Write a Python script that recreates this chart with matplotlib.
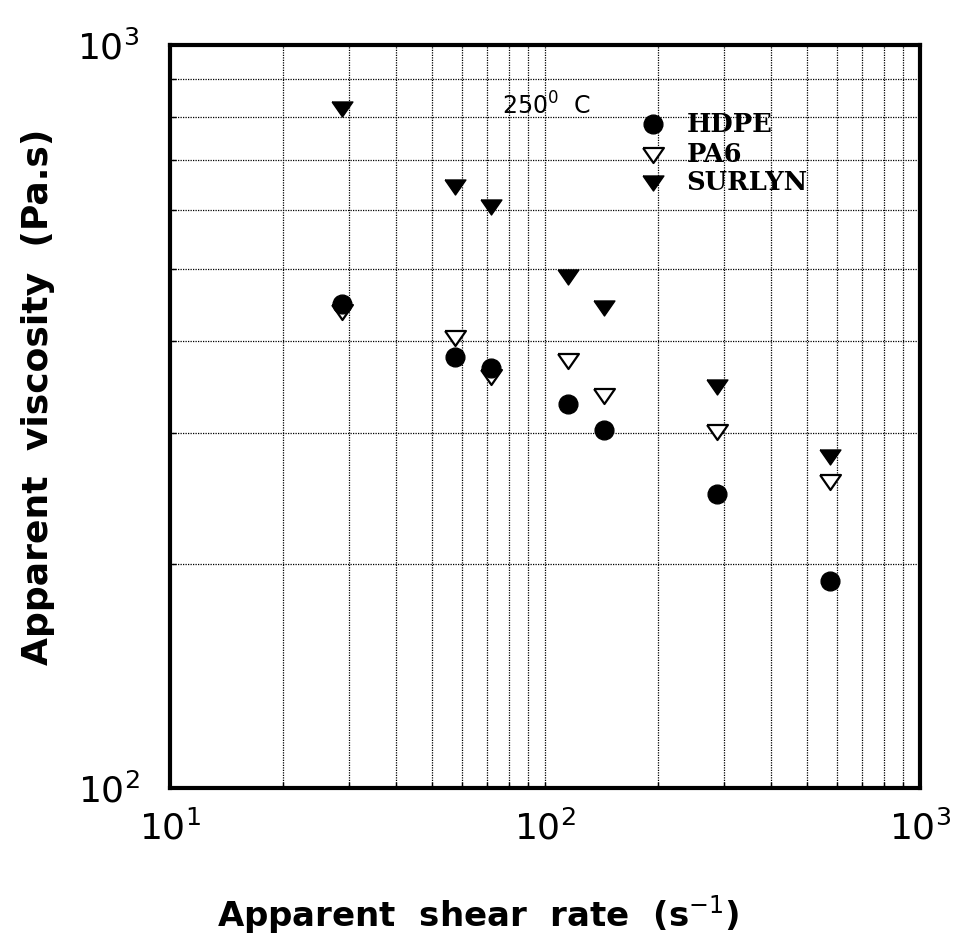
import matplotlib
matplotlib.use("Agg")
import matplotlib.pyplot as plt
from matplotlib.ticker import LogLocator, NullFormatter

shear_rate = [28.8, 57.6, 72, 115.2, 144, 288, 576]
hdpe = [448, 380, 368, 329, 303, 249, 190]
pa6 = [437, 403, 357, 376, 337, 301, 258]
surlyn = [819, 644, 605, 488, 442, 347, 279]
series_names = ["HDPE", "PA6", "SURLYN"]

fig = plt.figure(figsize=(9.54, 9.41), dpi=100)
ax = fig.add_axes([170/954, 1-788/941, (920-170)/954, (788-45)/941])
ax.set_xscale("log")
ax.set_yscale("log")
ax.set_xlim(10, 1000)
ax.set_ylim(100, 1000)

tri = [(-1, 0.72), (1, 0.72), (0, -0.72), (-1, 0.72)]

ax.plot(shear_rate, pa6, linestyle="none", marker=tri, markersize=15,
        markerfacecolor="white", markeredgecolor="black", markeredgewidth=1.6, zorder=3)
ax.plot(shear_rate, hdpe, linestyle="none", marker="o", markersize=13.5,
        markerfacecolor="black", markeredgecolor="black", zorder=4)
ax.plot(shear_rate, surlyn, linestyle="none", marker=tri, markersize=15,
        markerfacecolor="black", markeredgecolor="black", zorder=4)

ax.xaxis.set_major_locator(LogLocator(base=10))
ax.xaxis.set_minor_locator(LogLocator(base=10, subs=range(2, 10)))
ax.yaxis.set_major_locator(LogLocator(base=10))
ax.yaxis.set_minor_locator(LogLocator(base=10, subs=range(2, 10)))
ax.xaxis.set_minor_formatter(NullFormatter())
ax.yaxis.set_minor_formatter(NullFormatter())
ax.grid(True, which="both", linestyle=(0, (1, 1)), color="black", linewidth=0.9)

for s in ax.spines.values():
    s.set_linewidth(3)

ax.tick_params(which="both", direction="in", length=4, width=1)
ax.tick_params(axis="x", which="major", pad=16, labelsize=26)
ax.tick_params(axis="y", which="major", pad=22, labelsize=26)

ax.set_xlabel("Apparent  shear  rate  (s$^{-1}$)", fontsize=24.5, fontweight="bold")
ax.set_ylabel("Apparent  viscosity  (Pa.s)", fontsize=26, fontweight="bold")
ax.xaxis.set_label_coords((478 - 170) / 750, -(893 - 788) / 743)
ax.yaxis.set_label_coords((55 - 170) / 750, 1 - (397 - 45) / 743)

ax.text(0.443, 0.918, "250$^0$  C", transform=ax.transAxes, fontsize=17,
        ha="left", va="center")

leg_x = 653
leg_y = [124, 155, 183]
markers = [dict(marker="o", markersize=13.5, mfc="black", mec="black"),
           dict(marker=tri, markersize=15, mfc="white", mec="black", mew=1.6),
           dict(marker=tri, markersize=15, mfc="black", mec="black")]
for name, y, mk in zip(series_names, leg_y, markers):
    xa = (leg_x - 170) / 750
    ya = 1 - (y - 45) / 743
    ax.plot([xa], [ya], transform=ax.transAxes, linestyle="none", zorder=5, clip_on=False, **mk)
    ax.text(xa + 0.045, ya, name, transform=ax.transAxes, fontsize=18.5,
            fontweight="bold", family="DejaVu Serif", ha="left", va="center")

fig.savefig("out.png", dpi=100)
